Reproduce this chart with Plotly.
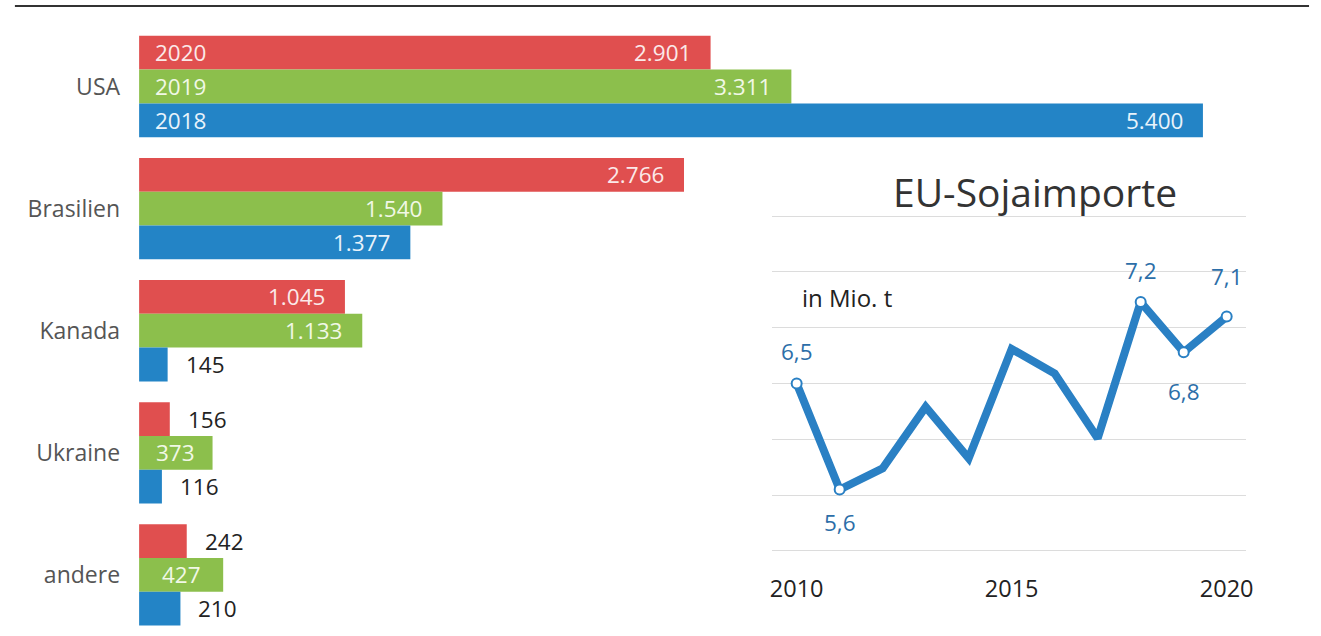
import plotly.graph_objects as go

# ---------------- data ----------------
countries = ["USA", "Brasilien", "Kanada", "Ukraine", "andere"]
years_bar = ["2020", "2019", "2018"]
vals_2020 = [2901, 2766, 1045, 156, 242]
vals_2019 = [3311, 1540, 1133, 373, 427]
vals_2018 = [5400, 1377, 145, 116, 210]

line_years = [2010, 2011, 2012, 2013, 2014, 2015, 2016, 2017, 2018, 2019, 2020]
line_vals = [6.5, 5.55, 5.74, 6.29, 5.83, 6.81, 6.59, 6.01, 7.23, 6.78, 7.1]
line_labels = {2010: ("6,5", "above"), 2011: ("5,6", "below"), 2018: ("7,2", "above"),
               2019: ("6,8", "below"), 2020: ("7,1", "above")}
line_ticks = [2010, 2015, 2020]

colors = {"2020": "#e04f4f", "2019": "#8cbf4c", "2018": "#2384c6"}
inside_txt = {"2020": "#fbe9e9", "2019": "#f1f8e6", "2018": "#e8f3fb"}
series = {"2020": vals_2020, "2019": vals_2019, "2018": vals_2018}

FONT = "Open Sans"
W, H = 1321, 636
LBL = 22.5

fig = go.Figure()
for yr in years_bar:
    fig.add_trace(go.Bar(
        y=countries, x=series[yr], orientation="h", name=yr,
        marker=dict(color=colors[yr], line=dict(width=0)),
        xaxis="x", yaxis="y", hoverinfo="skip", showlegend=False))

fig.add_trace(go.Scatter(
    x=line_years, y=line_vals, mode="lines",
    line=dict(color="#2a80c4", width=8, shape="linear"),
    xaxis="x2", yaxis="y2", hoverinfo="skip", showlegend=False))
mk_x = [y for y in line_years if y in line_labels]
mk_y = [line_vals[line_years.index(y)] for y in mk_x]
fig.add_trace(go.Scatter(
    x=mk_x, y=mk_y, mode="markers",
    marker=dict(color="white", size=10, line=dict(color="#2a80c4", width=2)),
    xaxis="x2", yaxis="y2", hoverinfo="skip", showlegend=False))

def de(v):
    return f"{v:,}".replace(",", ".")

annotations = []
# vertical offsets of grouped bars (px): 2020 top, 2018 bottom
bar_px = 122.1 * (1 - 0.17) / 3
shifts = {"2020": bar_px, "2019": 0, "2018": -bar_px}
for yr in years_bar:
    for c, v in zip(countries, series[yr]):
        if v >= 1000:
            annotations.append(dict(x=v, y=c, xref="x", yref="y", text=de(v), showarrow=False,
                                    xanchor="right", xshift=-18, yshift=shifts[yr],
                                    font=dict(family=FONT, size=LBL, color=inside_txt[yr])))
        elif v >= 300:
            annotations.append(dict(x=v / 2, y=c, xref="x", yref="y", text=de(v), showarrow=False,
                                    xanchor="center", yshift=shifts[yr],
                                    font=dict(family=FONT, size=LBL, color=inside_txt[yr])))
        else:
            annotations.append(dict(x=v, y=c, xref="x", yref="y", text=de(v), showarrow=False,
                                    xanchor="left", xshift=16, yshift=shifts[yr],
                                    font=dict(family=FONT, size=LBL, color="#222222")))
    # year labels inside the USA bars
    annotations.append(dict(x=0, y=countries[0], xref="x", yref="y", text=yr, showarrow=False,
                            xanchor="left", xshift=14, yshift=shifts[yr],
                            font=dict(family=FONT, size=LBL, color=inside_txt[yr])))

for yv, (txt, pos) in line_labels.items():
    val = line_vals[line_years.index(yv)]
    if yv in (2019, 2020):
        ys = 40 if pos == "above" else -39
    else:
        ys = 32 if pos == "above" else -33
    annotations.append(dict(x=yv, y=val, xref="x2", yref="y2", text=txt, showarrow=False,
                            xanchor="center", yanchor="middle", yshift=ys,
                            font=dict(family=FONT, size=22.5, color="#2c6ea8")))

annotations.append(dict(x=1040 / W, y=1 - 192 / H, xref="paper", yref="paper", text="EU-Sojaimporte",
                        showarrow=False, xanchor="center", yanchor="middle",
                        font=dict(family=FONT, size=39, color="#333333")))
annotations.append(dict(x=803 / W, y=1 - 297 / H, xref="paper", yref="paper", text="in Mio. t",
                        showarrow=False, xanchor="left", yanchor="middle",
                        font=dict(family=FONT, size=24, color="#222222")))

fig.update_layout(
    autosize=True, margin=dict(l=0, r=0, t=0, b=0),
    paper_bgcolor="white", plot_bgcolor="white",
    barmode="group", bargap=0.17, bargroupgap=0,
    font=dict(family=FONT),
    separators=",.",
    xaxis=dict(domain=[138 / W, 1229 / W], range=[0, 5500], visible=False, fixedrange=True),
    yaxis=dict(domain=[0, 0.96], range=[4.5, -0.5], type="category", showgrid=False,
               showline=False, zeroline=False, ticks="", ticklabelstandoff=18,
               tickfont=dict(family=FONT, size=23, color="#555555"), anchor="x"),
    xaxis2=dict(domain=[775 / W, 1253 / W], range=[2009.42, 2020.46], anchor="y2",
                tickmode="array", tickvals=line_ticks, ticktext=[str(t) for t in line_ticks],
                showgrid=False, zeroline=False, showline=False, ticks="",
                ticklabelstandoff=20, tickfont=dict(family=FONT, size=23.5, color="#222222")),
    yaxis2=dict(domain=[1 - 552 / H, 1 - 215 / H], range=[4.99, 8.01], anchor="x2",
                tick0=5, dtick=0.5, showgrid=True, gridcolor="#dcdcdc", gridwidth=1,
                zeroline=False, showline=False, showticklabels=False, ticks=""),
    annotations=annotations,
    shapes=[dict(type="line", xref="paper", yref="paper", x0=13 / W, x1=1316 / W,
                 y0=1 - 6 / H, y1=1 - 6 / H, line=dict(color="#333333", width=2))],
)

fig.write_html("out.html", config={"displayModeBar": False, "responsive": True},
               default_width="100%", default_height="100%",
               post_script=("document.documentElement.style.margin='0';"
                            "document.documentElement.style.overflow='hidden';"
                            "document.body.style.margin='0';"
                            "document.body.style.padding='0';"
                            "document.body.style.overflow='hidden';"
                            "var gd=document.getElementById('{plot_id}');"
                            "gd.style.width='100vw';gd.style.height='100vh';"
                            "Plotly.Plots.resize(gd);"))
